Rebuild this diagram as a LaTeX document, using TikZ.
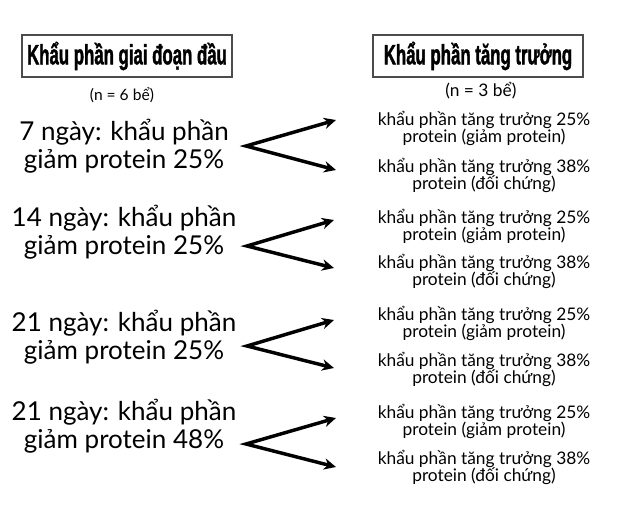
\documentclass[tikz,border=0pt]{standalone}
\usepackage{fontspec}
\setmainfont{Lato}
\newfontfamily\headfont[FakeStretch=0.6,FakeBold=1.3]{Liberation Sans}
\usetikzlibrary{arrows.meta}
\begin{document}
\begin{tikzpicture}[x=0.75pt,y=-0.75pt,
  headbox/.style={draw=black!70,line width=1.1pt,minimum width=157.5pt,minimum height=31.5pt,inner sep=0pt,font=\headfont\bfseries\fontsize{21}{22}\selectfont},
  countlbl/.style={inner sep=0pt,font=\fontsize{11.7}{13}\selectfont},
  daylbl/.style={align=center,inner sep=0pt,font=\fontsize{19.5}{21}\selectfont},
  growlbl/.style={align=center,inner sep=0pt,font=\fontsize{13}{12.8}\selectfont},
  fork/.style={line width=2.6pt,line join=miter,{Stealth[length=9pt,width=8.5pt]}-{Stealth[length=9pt,width=8.5pt]}}
]
\useasboundingbox (0,0) rectangle (624,521);
\node[headbox] (h1) at (127,56) {Khẩu phần giai đoạn đầu};
\node[headbox] (h2) at (478,56) {Khẩu phần tăng trưởng};
\node[countlbl] (n1) at (122,95) {(n = 6 bể)};
\node[countlbl,font=\fontsize{13}{14}\selectfont] (n2) at (481,91) {(n = 3 bể)};

\node[daylbl] (d1) at (124,146.5) {7 ngày: khẩu phần\\giảm protein 25\%};
\node[daylbl] (d2) at (124,232.5) {14 ngày: khẩu phần\\giảm protein 25\%};
\node[daylbl] (d3) at (124,337.5) {21 ngày: khẩu phần\\giảm protein 25\%};
\node[daylbl] (d4) at (124,426) {21 ngày: khẩu phần\\giảm protein 48\%};

\node[growlbl] (g1a) at (484,128.5) {khẩu phần tăng trưởng 25\%\\protein (giảm protein)};
\node[growlbl] (g1b) at (484,175) {khẩu phần tăng trưởng 38\%\\protein (đối chứng)};
\node[growlbl] (g2a) at (484,226.5) {khẩu phần tăng trưởng 25\%\\protein (giảm protein)};
\node[growlbl] (g2b) at (484,271.5) {khẩu phần tăng trưởng 38\%\\protein (đối chứng)};
\node[growlbl] (g3a) at (484,323.5) {khẩu phần tăng trưởng 25\%\\protein (giảm protein)};
\node[growlbl] (g3b) at (484,369) {khẩu phần tăng trưởng 38\%\\protein (đối chứng)};
\node[growlbl] (g4a) at (484,421.5) {khẩu phần tăng trưởng 25\%\\protein (giảm protein)};
\node[growlbl] (g4b) at (484,467.5) {khẩu phần tăng trưởng 38\%\\protein (đối chứng)};

\coordinate (v1) at (246,146);
\coordinate (t1a) at (336,120);
\coordinate (t1b) at (336,170);
\coordinate (v2) at (247,246);
\coordinate (t2a) at (334,220);
\coordinate (t2b) at (334,268);
\coordinate (v3) at (247,346);
\coordinate (t3a) at (334,320);
\coordinate (t3b) at (334,368);
\coordinate (v4) at (246,444);
\coordinate (t4a) at (336,418);
\coordinate (t4b) at (336,467);

\draw[fork] (t1a) -- (v1) -- (t1b);
\draw[fork] (t2a) -- (v2) -- (t2b);
\draw[fork] (t3a) -- (v3) -- (t3b);
\draw[fork] (t4a) -- (v4) -- (t4b);
\end{tikzpicture}
\end{document}
